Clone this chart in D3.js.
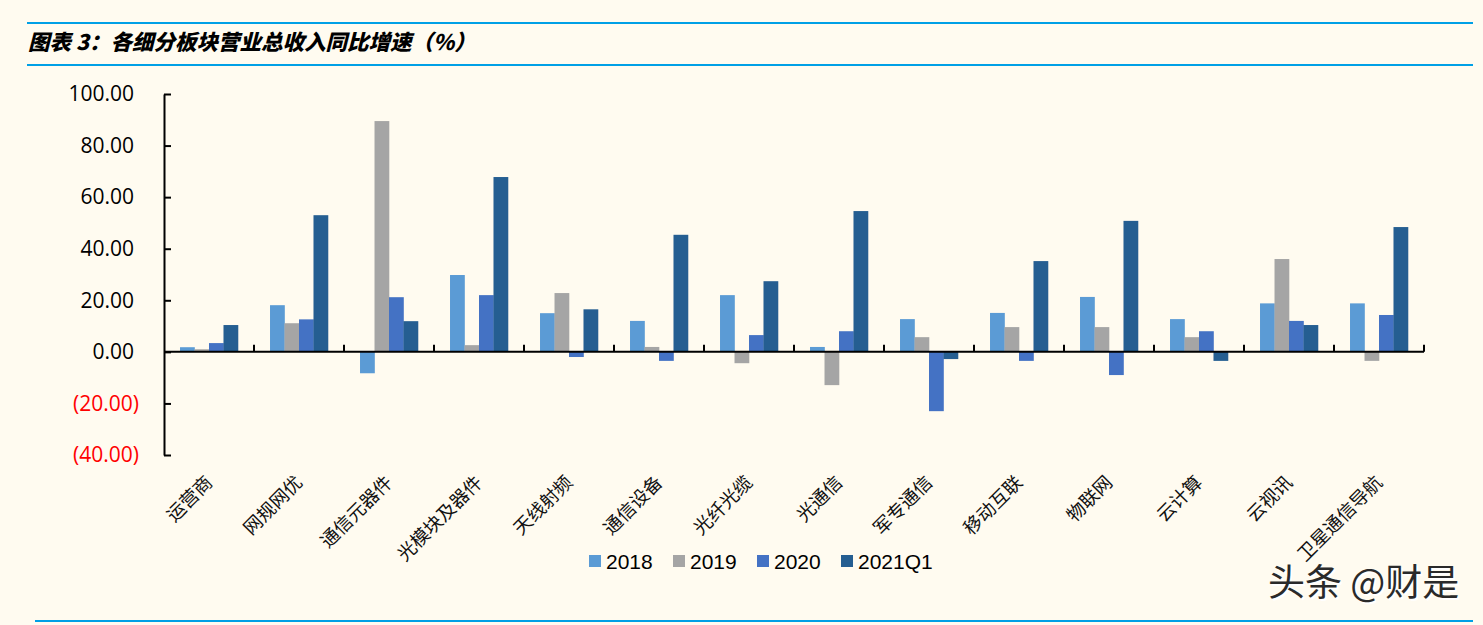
<!DOCTYPE html>
<html lang="zh">
<head>
<meta charset="utf-8">
<title>各细分板块营业总收入同比增速</title>
<style>
  body { margin: 0; background: #fffbf0; }
  .title { font-family: "Noto Sans CJK SC", sans-serif; font-weight: 900; font-style: italic; font-size: 21.5px; }
  .axis--y text { font-family: "Open Sans", sans-serif; font-size: 21px; }
  .cat { font-family: "Noto Sans CJK SC", sans-serif; font-size: 18.5px; fill: #111; }
  .legend text { font-family: "Liberation Sans", Arial, sans-serif; font-size: 21px; }
  .mark { font-family: "Noto Sans CJK SC", sans-serif; font-size: 37px; }
</style>
</head>
<body>
<svg width="1483" height="625"></svg>
<script src="https://d3js.org/d3.v7.min.js"></script>
<script>

// values (%)
var categories = ["运营商", "网规网优", "通信元器件", "光模块及器件", "天线射频", "通信设备", "光纤光缆",
                  "光通信", "军专通信", "移动互联", "物联网", "云计算", "云视讯", "卫星通信导航"];
var seriesNames = ["2018", "2019", "2020", "2021Q1"];
var s2018   = [1.8, 18.1, -8.3, 29.8, 15.0, 12.0, 22.0, 1.9, 12.7, 15.1, 21.3, 12.7, 18.8, 18.8];
var s2019   = [1.0, 11.1, 89.5, 2.6, 22.8, 1.9, -4.4, -12.9, 5.7, 9.6, 9.6, 5.7, 36.0, -3.5];
var s2020   = [3.4, 12.6, 21.2, 22.0, -2.0, -3.5, 6.5, 8.0, -23.0, -3.5, -9.0, 8.0, 12.0, 14.3];
var s2021Q1 = [10.4, 53.0, 11.9, 67.8, 16.5, 45.4, 27.4, 54.6, -2.8, 35.2, 50.8, -3.5, 10.4, 48.4];
var yTicks  = [-40, -20, 0, 20, 40, 60, 80, 100];

var colors = ["#5b9bd5", "#a5a5a5", "#4472c4", "#255e91"];
var seriesValues = [s2018, s2019, s2020, s2021Q1];

var svg = d3.select("svg"),
    W = +svg.attr("width"),
    H = +svg.attr("height");

svg.append("rect").attr("width", W).attr("height", H).attr("fill", "#fffbf0");

// header rules and title
var rule = "#00a0e6";
svg.append("line").attr("x1", 27).attr("x2", 1473).attr("y1", 23).attr("y2", 23)
    .attr("stroke", rule).attr("stroke-width", 2);
svg.append("line").attr("x1", 27).attr("x2", 1473).attr("y1", 65).attr("y2", 65)
    .attr("stroke", rule).attr("stroke-width", 2);
svg.append("line").attr("x1", 35).attr("x2", 1473).attr("y1", 621).attr("y2", 621)
    .attr("stroke", rule).attr("stroke-width", 2);
svg.append("text").attr("class", "title").attr("x", 28).attr("y", 50)
    .text("图表 3：各细分板块营业总收入同比增速（%）");

var x = d3.scaleBand().domain(categories).range([164, 1424])
    .paddingInner(0.356).paddingOuter(0.178);
var x1 = d3.scaleBand().domain(seriesNames).range([0, x.bandwidth()]);
var y = d3.scaleLinear().domain([-40, 100]).range([455, 94]);

var rows = categories.map(function(c, i) {
  return { cat: c, vals: seriesNames.map(function(s, j) { return { key: s, v: seriesValues[j][i], c: colors[j] }; }) };
});

// bars
svg.append("g").selectAll("g")
  .data(rows)
  .enter().append("g")
    .attr("transform", function(d) { return "translate(" + x(d.cat) + ",0)"; })
  .selectAll("rect")
  .data(function(d) { return d.vals; })
  .enter().append("rect")
    .attr("x", function(d) { return x1(d.key); })
    .attr("width", x1.bandwidth() + 0.3)
    .attr("y", function(d) { return y(Math.max(0, d.v)); })
    .attr("height", function(d) { return Math.abs(y(d.v) - y(0)); })
    .attr("fill", function(d) { return d.c; });

// y axis
var yAxis = svg.append("g")
    .attr("class", "axis axis--y")
    .attr("transform", "translate(164,0)")
    .call(d3.axisLeft(y).tickValues(yTicks).tickSizeInner(-7).tickSizeOuter(0).tickPadding(30)
      .tickFormat(function(d) { return d < 0 ? "(" + d3.format(".2f")(-d) + ")" : d3.format(".2f")(d); }));
yAxis.selectAll("path, line").attr("stroke", "#000").attr("stroke-width", 2);
yAxis.selectAll("text")
    .attr("fill", function(d) { return d < 0 ? "#ff0000" : "#000"; })
    .attr("x", function(d) { return d < 0 ? -25 : -30; });

// x axis on zero line, ticks at band edges pointing up
var half = (x.step() - x.bandwidth()) / 2;
var edges = categories.map(function(c) { return x(c) - half; }).concat([x(categories[categories.length - 1]) + x.bandwidth() + half]);
var xg = svg.append("g").attr("class", "axis axis--x");
xg.append("line")
    .attr("x1", x.range()[0]).attr("x2", edges[edges.length - 1])
    .attr("y1", y(0)).attr("y2", y(0))
    .attr("stroke", "#000").attr("stroke-width", 2);
xg.selectAll(".tick").data(edges.slice(1)).enter().append("line")
    .attr("x1", function(d) { return d; }).attr("x2", function(d) { return d; })
    .attr("y1", y(0)).attr("y2", y(0) - 7)
    .attr("stroke", "#000").attr("stroke-width", 2);

// category labels
svg.append("g").selectAll("text")
  .data(categories)
  .enter().append("text")
    .attr("class", "cat")
    .attr("text-anchor", "end")
    .attr("dominant-baseline", "central")
    .attr("transform", function(d) { return "translate(" + (x(d) + x.bandwidth() / 2 - 1) + ",478) rotate(-45)"; })
    .text(function(d) { return d; });

// legend
var legend = svg.append("g").attr("class", "legend")
  .selectAll("g")
  .data(seriesNames)
  .enter().append("g")
    .attr("transform", function(d, i) { return "translate(" + (589 + i * 84) + ",555)"; });
legend.append("rect").attr("width", 12).attr("height", 12)
    .attr("fill", function(d, i) { return colors[i]; });
legend.append("text").attr("x", 17).attr("y", 14).text(function(d) { return d; });

// watermark
svg.append("text").attr("class", "mark").attr("x", 1270).attr("y", 598)
    .attr("fill", "#ffffff").text("头条 @财是");
svg.append("text").attr("class", "mark").attr("x", 1268).attr("y", 596)
    .attr("fill", "#2a2a2a").text("头条 @财是");

</script>
</body>
</html>
